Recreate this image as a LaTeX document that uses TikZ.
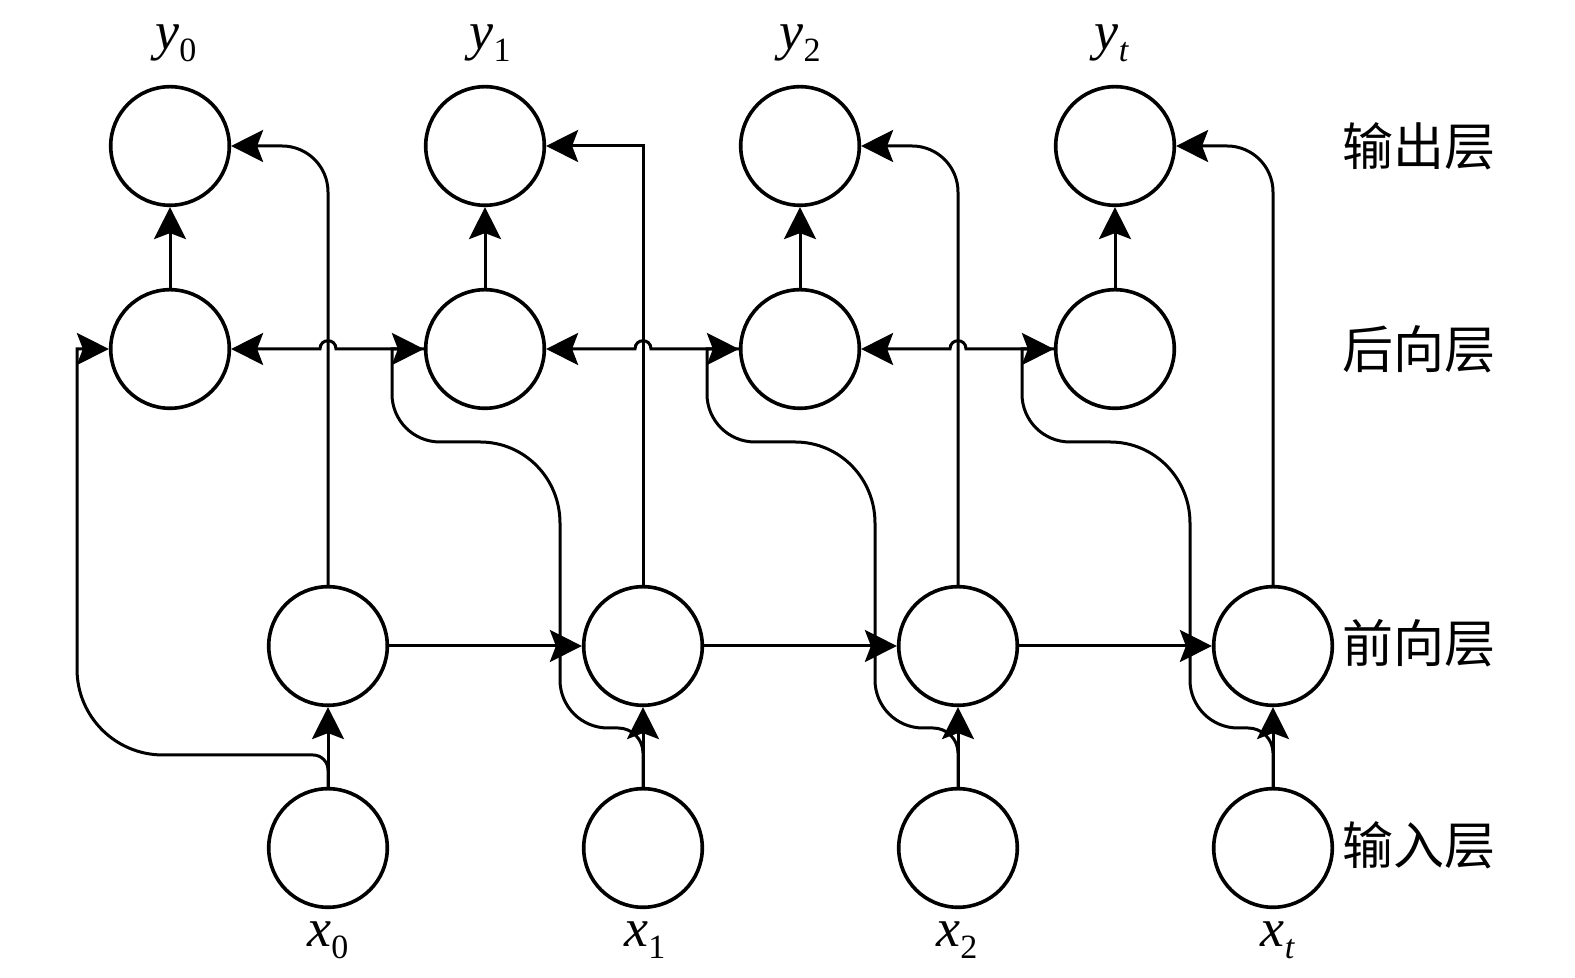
\documentclass[tikz,border=0pt]{standalone}
\usepackage{graphicx}
\usepackage{fontspec}
\setmainfont{Liberation Serif}
\newfontfamily\cjk{Noto Sans CJK SC}
\usetikzlibrary{arrows.meta}
\tikzset{
  neuron/.style={circle, draw, line width=1.8pt, minimum size=59.3pt, inner sep=0pt},
  conn/.style={line width=1.5pt, -{Stealth[length=16pt,width=16pt,inset=3pt]}},
  layerlab/.style={font=\cjk\fontsize{25.5}{28}\selectfont, anchor=west, inner sep=0pt},
  varlab/.style={anchor=base, inner sep=0pt}
}
\newcommand{\vlab}[2]{{\fontsize{27}{30}\selectfont\textit{#1}}\raisebox{-6pt}{\fontsize{17}{20}\selectfont #2}}
\begin{document}
\begin{tikzpicture}[x=0.5pt,y=0.5pt]
\useasboundingbox (0,0) rectangle (1575,978);
% nodes
\node[neuron] (o0) at (170,832) {};
\node[neuron] (o1) at (485,832) {};
\node[neuron] (o2) at (800,832) {};
\node[neuron] (o3) at (1115,832) {};
\node[neuron] (b0) at (170,629) {};
\node[neuron] (b1) at (485,629) {};
\node[neuron] (b2) at (800,629) {};
\node[neuron] (b3) at (1115,629) {};
\node[neuron] (f0) at (328,332) {};
\node[neuron] (f1) at (643,332) {};
\node[neuron] (f2) at (958,332) {};
\node[neuron] (f3) at (1273,332) {};
\node[neuron] (n0) at (328,130) {};
\node[neuron] (n1) at (643,130) {};
\node[neuron] (n2) at (958,130) {};
\node[neuron] (n3) at (1273,130) {};
% labels
\node[varlab] (ly0) at (176,928) {\vlab{y}{0}};
\node[varlab] (ly1) at (490,928) {\vlab{y}{1}};
\node[varlab] (ly2) at (800,928) {\vlab{y}{2}};
\node[varlab] (ly3) at (1112,928) {\vlab{y}{\textit{t}}};
\node[varlab] (lx0) at (328,31) {\vlab{x}{0}};
\node[varlab] (lx1) at (645,31) {\vlab{x}{1}};
\node[varlab] (lx2) at (957,31) {\vlab{x}{2}};
\node[varlab] (lx3) at (1278,31) {\vlab{x}{\textit{t}}};
\node[layerlab] (L1) at (1342,832) {输出层};
\node[layerlab] (L2) at (1342,629) {后向层};
\node[layerlab] (L3) at (1342,335) {前向层};
\node[layerlab] (L4) at (1342,133) {输入层};
% backward -> output
\foreach \i in {0,1,2,3} { \draw[conn] (b\i.north) -- (o\i.south); }
% input -> forward
\foreach \i in {0,1,2,3} { \draw[conn] (n\i.north) -- (f\i.south); }
% forward recurrence
\draw[conn] (f0.east) -- (f1.west);
\draw[conn] (f1.east) -- (f2.west);
\draw[conn] (f2.east) -- (f3.west);
% forward -> output
\draw[conn, rounded corners=23pt] (f0.north) |- (o0.east);
\draw[conn] (f1.north) |- (o1.east);
\draw[conn, rounded corners=23pt] (f2.north) |- (o2.east);
\draw[conn, rounded corners=23pt] (f3.north) |- (o3.east);
% backward recurrence with bridges
\draw[conn] (b1.west) -- (336,629) .. controls (336,640) and (320,640) .. (320,629) -- (b0.east);
\draw[conn] (b2.west) -- (651,629) .. controls (651,640) and (635,640) .. (635,629) -- (b1.east);
\draw[conn] (b3.west) -- (966,629) .. controls (966,640) and (950,640) .. (950,629) -- (b2.east);
% input -> backward
\draw[conn] (n0.north) -- (328,208) to[out=90,in=0] (313,223) -- (163,223) to[out=180,in=-90] (77,309) -- (77,629) -- (b0.west);
\draw[conn] (n1.north) -- (643,225) to[out=90,in=0] (618,250) -- (608,250) to[out=180,in=-90] (560,298) -- (560,455) to[out=90,in=0] (480,536) -- (440,536) to[out=180,in=-90] (392,584) -- (392,629) -- (b1.west);
\draw[conn] (n2.north) -- (958,225) to[out=90,in=0] (933,250) -- (923,250) to[out=180,in=-90] (875,298) -- (875,455) to[out=90,in=0] (795,536) -- (755,536) to[out=180,in=-90] (707,584) -- (707,629) -- (b2.west);
\draw[conn] (n3.north) -- (1273,225) to[out=90,in=0] (1248,250) -- (1238,250) to[out=180,in=-90] (1190,298) -- (1190,455) to[out=90,in=0] (1110,536) -- (1070,536) to[out=180,in=-90] (1022,584) -- (1022,629) -- (b3.west);
\end{tikzpicture}
\end{document}
